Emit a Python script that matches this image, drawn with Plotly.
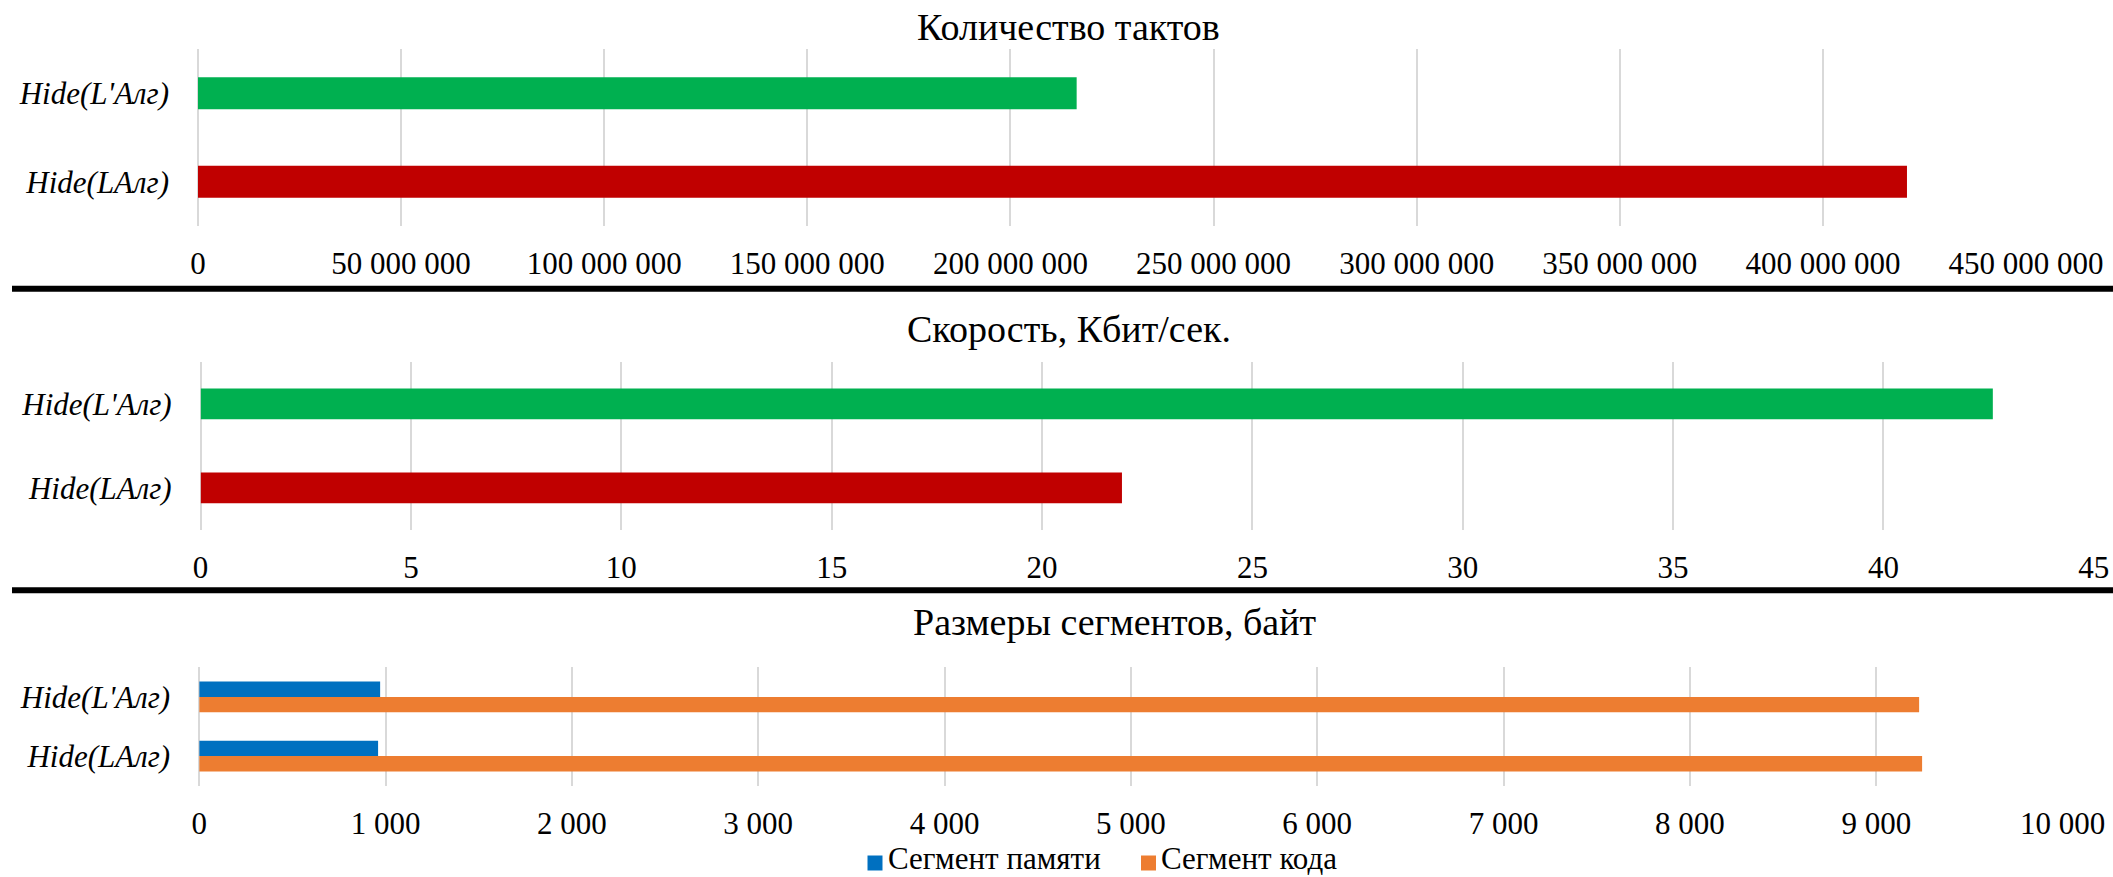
import plotly.graph_objects as go

W, H = 2113, 877
FONT = "Liberation Serif, Times New Roman, serif"

# Categories (bottom to top)
categories = ["Hide(LАлг)", "Hide(L'Алг)"]

# Panel 1: clock cycles
cycles = [420_700_000, 216_300_000]
cycles_ticks = [0, 50e6, 100e6, 150e6, 200e6, 250e6, 300e6, 350e6, 400e6, 450e6]
cycles_ticktext = ["0", "50 000 000", "100 000 000", "150 000 000", "200 000 000",
                   "250 000 000", "300 000 000", "350 000 000", "400 000 000", "450 000 000"]

# Panel 2: speed, Kbit/s
speed = [21.9, 42.6]
speed_ticks = [0, 5, 10, 15, 20, 25, 30, 35, 40, 45]
speed_ticktext = ["0", "5", "10", "15", "20", "25", "30", "35", "40", "45"]

# Panel 3: segment sizes, bytes
series_names = ["Сегмент памяти", "Сегмент кода"]
mem_segment = [960, 971]
code_segment = [9246, 9230]
size_ticks = [0, 1000, 2000, 3000, 4000, 5000, 6000, 7000, 8000, 9000, 10000]
size_ticktext = ["0", "1 000", "2 000", "3 000", "4 000", "5 000",
                 "6 000", "7 000", "8 000", "9 000", "10 000"]

pair_colors = ["#C00000", "#00B050"]
series_colors = ["#0070C0", "#ED7D31"]
GRID = "#D9D9D9"


def xd(a, b):
    return [a / W, b / W]


def yd(top, bottom):
    return [1 - bottom / H, 1 - top / H]


fig = go.Figure()

fig.add_trace(go.Bar(x=cycles, y=categories, orientation="h", width=0.36,
                     marker=dict(color=pair_colors, line_width=0),
                     showlegend=False, xaxis="x", yaxis="y", hoverinfo="x+y"))
fig.add_trace(go.Bar(x=speed, y=categories, orientation="h", width=0.365,
                     marker=dict(color=pair_colors, line_width=0),
                     showlegend=False, xaxis="x2", yaxis="y2", hoverinfo="x+y"))
# memory segment sits above the category centre, code segment just below it
fig.add_trace(go.Bar(x=mem_segment, y=categories, orientation="h", width=0.26, offset=0,
                     name=series_names[0], marker=dict(color=series_colors[0], line_width=0),
                     showlegend=False, xaxis="x3", yaxis="y3"))
fig.add_trace(go.Bar(x=code_segment, y=categories, orientation="h", width=0.26, offset=-0.26,
                     name=series_names[1], marker=dict(color=series_colors[1], line_width=0),
                     showlegend=False, xaxis="x3", yaxis="y3"))

tick_font = dict(family=FONT, size=31, color="#000000")
cat_font = dict(family=FONT, size=31, color="#000000", style="italic")


def xaxis(domain, rng, vals, text, anchor):
    return dict(domain=domain, range=rng, tickvals=vals, ticktext=text, anchor=anchor,
                showgrid=True, gridcolor=GRID, gridwidth=1.5,
                zeroline=True, zerolinecolor=GRID, zerolinewidth=1.5,
                showline=False, ticks="", tickfont=tick_font, ticklabelstandoff=16,
                automargin=False, fixedrange=True)


def yaxis(domain, anchor):
    return dict(domain=domain, anchor=anchor, type="category",
                categoryorder="array", categoryarray=categories, range=[-0.5, 1.5],
                showgrid=False, zeroline=False, showline=False, ticks="",
                tickfont=cat_font, ticklabelstandoff=28, automargin=False, fixedrange=True)


fig.update_layout(
    width=W, height=H,
    margin=dict(l=0, r=0, t=0, b=0, autoexpand=False),
    paper_bgcolor="white", plot_bgcolor="white",
    font=dict(family=FONT, color="#000000"),
    barmode="overlay",
    showlegend=False,
    xaxis=xaxis(xd(198, 2026), [0, 450e6], cycles_ticks, cycles_ticktext, "y"),
    yaxis=yaxis(yd(49, 226), "x"),
    xaxis2=xaxis(xd(200.6, 2093.8), [0, 45], speed_ticks, speed_ticktext, "y2"),
    yaxis2=yaxis(yd(361.7, 530), "x2"),
    xaxis3=xaxis(xd(199.2, 2062.6), [0, 10000], size_ticks, size_ticktext, "y3"),
    yaxis3=yaxis(yd(667.3, 785.7), "x3"),
)

# Panel titles
titles = [("Количество тактов", 1068.5, 27), ("Скорость, Кбит/сек.", 1068.5, 329),
          ("Размеры сегментов, байт", 1115, 622)]
for text, cx, cy in titles:
    fig.add_annotation(text=text, xref="paper", yref="paper", x=cx / W, y=1 - cy / H,
                       xanchor="center", yanchor="middle", showarrow=False,
                       font=dict(family=FONT, size=38, color="#000000"))

# Legend row under the segment-size chart: colour key + series name
legend_keys_x = [867.5, 1141]
for name, color, kx in zip(series_names, series_colors, legend_keys_x):
    fig.add_shape(type="rect", xref="paper", yref="paper",
                  x0=kx / W, x1=(kx + 15) / W, y0=1 - 870.5 / H, y1=1 - 855.5 / H,
                  fillcolor=color, line_width=0)
    fig.add_annotation(text=name, xref="paper", yref="paper", x=(kx + 19) / W, y=0,
                       xanchor="left", yanchor="bottom", showarrow=False, borderpad=0,
                       font=dict(family=FONT, size=31, color="#000000"))

# Heavy separators between the three charts
for sy in (288.8, 590.3):
    fig.add_shape(type="line", xref="paper", yref="paper", x0=12 / W, x1=1,
                  y0=1 - sy / H, y1=1 - sy / H, line=dict(color="#000000", width=6))

fig.write_html("out.html")
